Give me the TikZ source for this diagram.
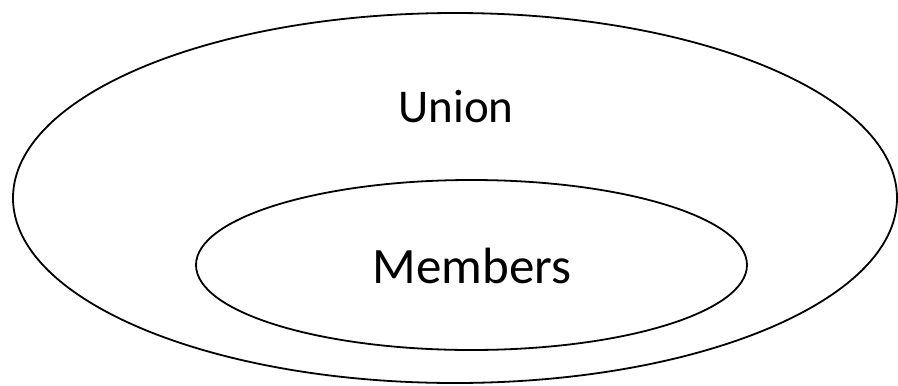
\documentclass[tikz,border=0pt]{standalone}
\usepackage{fontspec}
\setmainfont{Carlito}
\begin{document}
\begin{tikzpicture}[x=1pt,y=-1pt,
  set/.style={draw=black,line width=1.8pt},
  label/.style={inner sep=0pt,anchor=base}]
\useasboundingbox (0,0) rectangle (898,386);
% outer set
\draw[set] (455,198) ellipse [x radius=442,y radius=185];
% inner set
\draw[set] (471.5,265) ellipse [x radius=275.5,y radius=85];
\node[label,font=\fontsize{47}{56}\selectfont] (union) at (456,122) {Union};
\node[label,font=\fontsize{51}{61}\selectfont] (members) at (472,283) {Members};
\end{tikzpicture}
\end{document}
